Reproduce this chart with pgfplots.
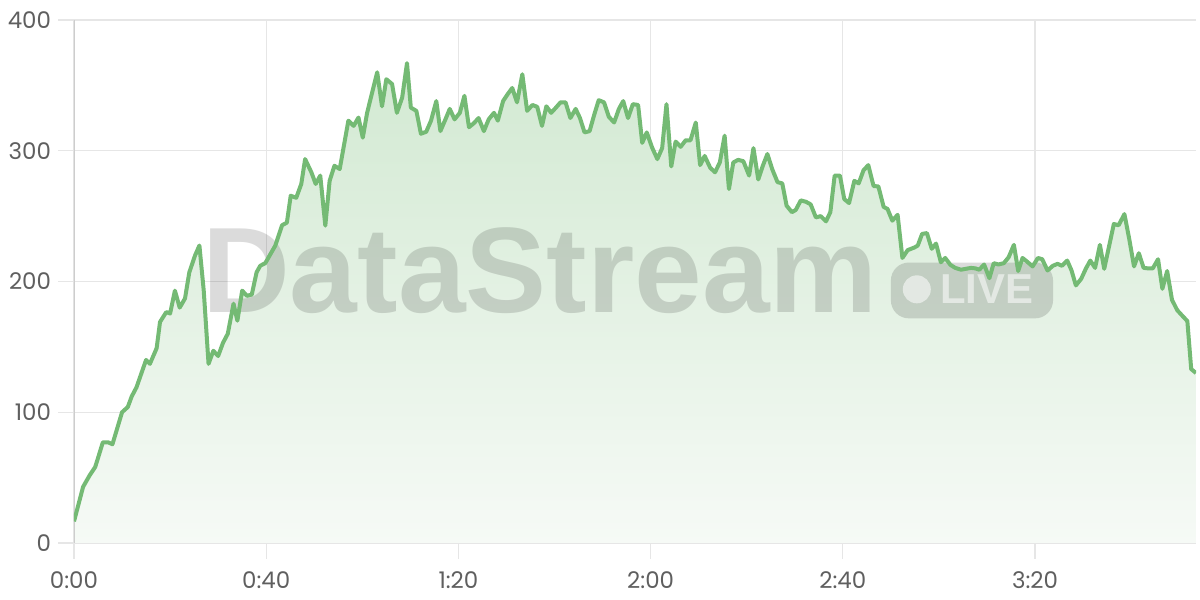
\documentclass[border=0pt]{standalone}
\usepackage{fontspec}
\usepackage{pgfplots}
\usepackage{pgfplotstable}
\pgfplotsset{compat=1.18}
\newfontfamily\tickfont{Poppins}
\newfontfamily\wmfont{Liberation Sans}
\definecolor{linegreen}{RGB}{116,186,116}
\definecolor{fillTop}{RGB}{210,233,210}
\definecolor{fillBot}{RGB}{246,250,246}
\definecolor{gridgray}{RGB}{230,230,230}
\definecolor{axisgray}{RGB}{205,205,205}
\definecolor{labelgray}{RGB}{95,95,95}
\pgfplotstableread{
t v
0 16.5
1.9 43
3.3 52
4.4 58
5 65
6 77
7.1 77
8 75.5
10 100
11.2 104
12 112
13 119
15 140
15.8 137
17.2 149
17.9 169
19.2 176.6
20 175.5
21 193
22 180
23.1 187
24 207
25.2 220
26.1 227.5
27 193
28 137
29 147
30 143
31 153
32 160
33.2 183
34 170
35 193
36 189
37 190
38 207
38.75 212
39.8 214
40.5 218.5
41.9 227.5
43.3 243
44.3 245
45.1 265.6
46.25 264
47.3 274.6
48.1 293.6
49.4 283.5
50.3 274.6
51.25 281
52.3 242.7
53.2 277
54.2 288.5
55.3 286
57.1 323
58.2 319
59.2 325.4
60.1 310
61 329
63.1 360
64.1 334
65 354.7
66.2 351
67.2 329
68.3 340.7
69.3 367
70.1 333
71.25 330.5
72.2 313
73.3 314.5
74.3 323
75.4 338
76.25 315
77.3 324
78.2 332
79.2 324
80.3 329
81.25 342
82.2 318
83.2 321
84.2 325
85.3 315
86.3 324
87.4 329
88.2 323
89.3 338
90.2 343
91.2 348
92.2 337
93.3 358.5
94.3 330.5
95.4 335
96.4 333.6
97.4 319
98.3 334
99.3 329
100.3 333
101.25 337
102.3 337
103.3 325
104.4 332
105.3 325
106.25 314
107.3 315
108.3 328
109.2 338.7
110.3 337
111.3 326
112.4 321.6
113.4 332
114.3 338
115.3 325
116.3 335.6
117.4 335
118.25 306
119.2 314
120.3 302.5
121.4 293.6
122.4 302
123.3 335.6
124.3 288
125.2 307
126.25 303
127.3 308
128.3 308
129.4 321.6
130.3 289
131.25 296
132.4 287
133.4 283.5
134.4 291
135.4 311.5
136.3 270.7
137.2 291
138.2 293
139.3 292
140.5 281
141.4 302
142.4 278
143.3 288
144.3 297.5
145.3 286
146.4 276
147.4 275
148.3 258
149.4 253
150.2 254.7
151.25 262
152.3 261
153.3 259
154.4 249
155.4 250
156.5 246
157.4 253
158.3 281
159.4 281
160.3 263
161.3 260
162.4 277
163.3 275
164.3 285
165.3 289
166.4 273
167.4 272.7
168.5 257
169.3 255.5
170.3 246.5
171.4 251
172.4 218
173.5 224
174.9 226
175.6 227.5
176.5 236.4
177.5 237
178.5 225
179.4 229
180.4 214.7
181.3 218
182.4 212.7
183.4 210.4
184.6 209
185.6 209.7
186.7 210.4
187.6 210
188.4 209
189.4 213
190.5 202.5
191.4 214
192.4 213
193.5 214
194.5 218.5
195.6 228
196.5 208
197.4 218
198.5 214.7
199.5 211.5
200.6 218
201.5 217
202.6 208.4
203.7 212
204.7 213.5
205.6 212
206.7 216
207.6 208.4
208.5 197
209.6 202
210.6 210
211.5 216
212.5 210.4
213.5 228
214.4 209.7
216.4 244
217.4 243
218.6 251.6
219.6 232.6
220.6 211.5
221.6 221.6
222.6 210.4
223.6 210
224.5 210
225.6 217
226.5 194.4
227.5 208
228.5 186
229.6 178
230.6 174
231.7 169.7
232.5 133
233.5 130
}\datatable
\begin{document}
\begin{tikzpicture}
\begin{axis}[
  name=ax,
  scale only axis, width=561bp, height=261.5bp,
  xmin=0, xmax=233.5, ymin=0, ymax=400,
  xtick={0,40,80,120,160,200},
  xticklabels={0:00,0:40,1:20,2:00,2:40,3:20},
  ytick={0,100,200,300,400},
  grid=major,
  major grid style={color=gridgray, line width=0.65bp},
  axis line style={draw=none},
  tick align=outside, tick pos=left, major tick length=8bp,
  tick style={color=gridgray, line width=0.65bp},
  ticklabel style={font=\tickfont\fontsize{11.5}{13}\selectfont, text=labelgray},
  /pgf/number format/assume math mode=true,
  xticklabel style={yshift=-3bp},
]
\addplot[draw=none, top color=fillTop, bottom color=fillBot] table[x=t,y=v]{\datatable} \closedcycle;
\draw[color=axisgray, line width=0.75bp] (axis cs:0,0) -- (axis cs:0,400);
\node[anchor=base west, inner sep=0, text=black, text opacity=0.14, font=\wmfont\bfseries\fontsize{61}{61}\selectfont] at (axis cs:26.6,176.3) {DataStream};
\fill[black, opacity=0.14, rounded corners=9bp] (axis cs:170,171.8) rectangle (axis cs:203.75,214.5);
\fill[white, opacity=0.55] (axis cs:175.4,194) circle[radius=7bp];
\node[anchor=west, inner sep=0, text=white, text opacity=0.55, font=\wmfont\bfseries\fontsize{21}{21}\selectfont] at (axis cs:180.2,194) {LIVE};
\addplot[linegreen, line width=2bp, line join=round, mark=none] table[x=t,y=v]{\datatable};
\end{axis}
\pgfresetboundingbox
\path[use as bounding box] ([xshift=-37bp,yshift=-28.5bp]ax.south west) rectangle ([xshift=2bp,yshift=10bp]ax.north east);
\end{tikzpicture}
\end{document}
